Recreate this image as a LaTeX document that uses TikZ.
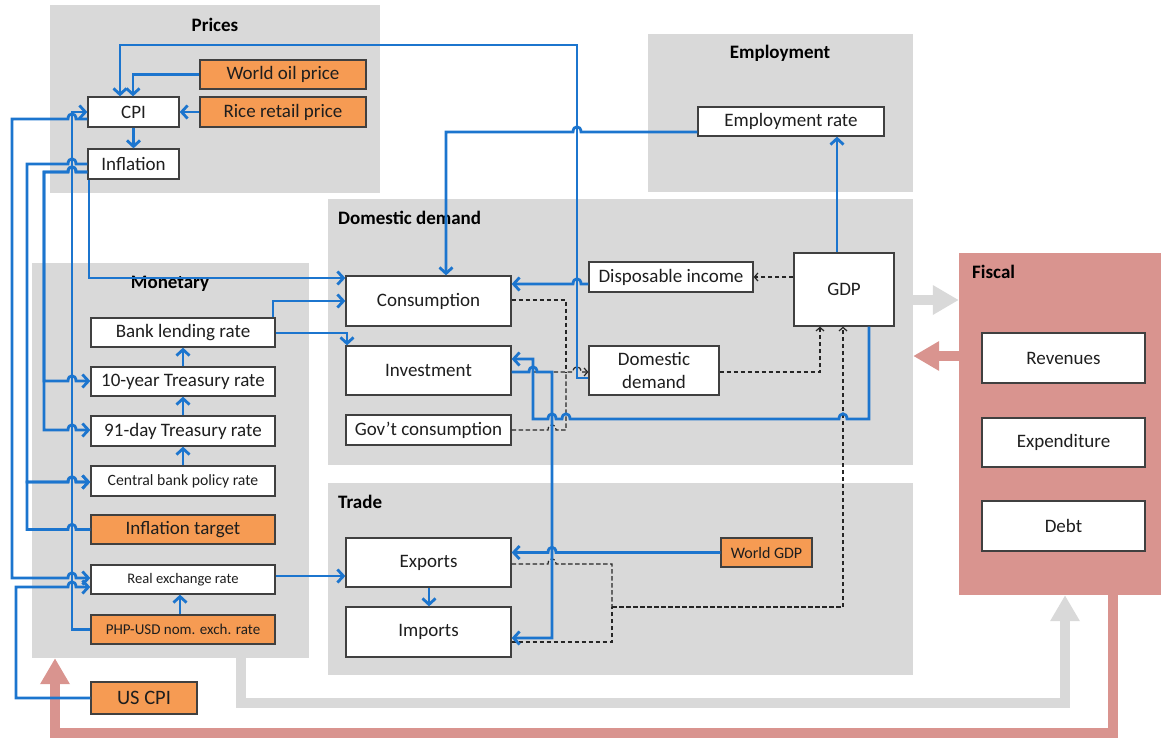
\documentclass[tikz,border=0pt]{standalone}
\usepackage{fontspec}
\setmainfont{Carlito}
\usetikzlibrary{arrows.meta}
\definecolor{grp}{RGB}{217,217,217}
\definecolor{fis}{RGB}{217,148,143}
\definecolor{org}{RGB}{246,155,83}
\definecolor{lb}{RGB}{28,117,206}
\definecolor{bd}{RGB}{64,64,64}
\definecolor{tx}{RGB}{30,30,30}
\begin{document}
\begin{tikzpicture}[x=1pt,y=-1pt,
  grpbox/.style={fill=grp, draw=none, inner sep=0pt},
  box/.style={draw=bd, line width=1.3pt, fill=white, text=tx, inner sep=0pt, font=\fontsize{19}{23}\selectfont, align=center},
  obox/.style={box, fill=org},
  ttl/.style={font=\bfseries\fontsize{19}{23}\selectfont, text=black, inner sep=0pt},
  bl/.style={draw=lb, line width=2.8pt, -{Straight Barb[length=6pt,width=13pt]}},
  ds/.style={draw=black!85, line width=1.2pt, dash pattern=on 4.5pt off 2.5pt, -{Straight Barb[length=3.5pt,width=8pt]}},
  big/.style={line width=10pt, -{Triangle[length=26pt,width=28pt]}},
  hop/.style 2 args={insert path={-- (#1-4,#2) .. controls (#1-4,#2-7) and (#1+4,#2-7) .. (#1+4,#2)}},
  hopl/.style 2 args={insert path={-- (#1+4,#2) .. controls (#1+4,#2-7) and (#1-4,#2-7) .. (#1-4,#2)}},
]
\useasboundingbox (0,0) rectangle (1161,740);

% groups
\node[grpbox, minimum width=330pt, minimum height=188pt] (gP) at (215,99) {};
\node[grpbox, minimum width=265pt, minimum height=158pt] (gE) at (780.5,113) {};
\node[grpbox, minimum width=585pt, minimum height=266pt] (gD) at (620.5,332) {};
\node[grpbox, minimum width=277pt, minimum height=395pt] (gM) at (170.5,460.5) {};
\node[grpbox, minimum width=585pt, minimum height=192pt] (gT) at (620.5,579) {};
\node[grpbox, fill=fis, minimum width=202pt, minimum height=342pt] (gF) at (1060,424) {};

\node[ttl] (tP) at (215,25) {Prices};
\node[ttl] (tE) at (780,53) {Employment};
\node[ttl, anchor=west] (tD) at (338,218) {Domestic demand};
\node[ttl] (tM) at (170,284) {Monetary};
\node[ttl, anchor=west] (tT) at (338,502) {Trade};
\node[ttl, anchor=west] (tF) at (972,272) {Fiscal};

% big arrows
\draw[big, draw=grp] (gD.east |- 0,300) -- (gF.west |- 0,300);
\draw[big, draw=fis] (gF.west |- 0,356) -- (gD.east |- 0,356);
\draw[big, draw=grp] (gM.south -| 241,0) -- (241,703) -- (1065,703) -- (gF.south -| 1065,0);
\draw[big, draw=fis] (gF.south -| 1113,0) -- (1113,733) -- (55,733) -- (gM.south -| 55,0);

% nodes
\node[obox, minimum width=166pt, minimum height=29pt] (wop) at (283,74.5) {World oil price};
\node[obox, minimum width=166pt, minimum height=30pt] (rice) at (283,112) {Rice retail price};
\node[box, minimum width=91pt, minimum height=30pt] (cpi) at (133.5,112) {CPI};
\node[box, minimum width=91pt, minimum height=30pt] (infl) at (133.5,164) {Inflation};
\node[box, minimum width=186pt, minimum height=29pt] (emp) at (791,121.5) {Employment rate};
\node[box, minimum width=164pt, minimum height=30pt] (di) at (671,277) {Disposable income};
\node[box, minimum width=100pt, minimum height=73pt] (gdp) at (844,289.5) {GDP};
\node[box, minimum width=165pt, minimum height=50pt] (cons) at (428.5,301) {Consumption};
\node[box, minimum width=165pt, minimum height=49pt] (inv) at (428.5,370.5) {Investment};
\node[box, minimum width=130pt, minimum height=49pt] (dd) at (654,370.5) {Domestic\\demand};
\node[box, minimum width=165pt, minimum height=30pt] (gov) at (428.5,430) {Gov’t consumption};
\node[box, minimum width=184pt, minimum height=29pt] (blr) at (183,332.5) {Bank lending rate};
\node[box, minimum width=184pt, minimum height=29pt] (t10) at (183,381.5) {10-year Treasury rate};
\node[box, minimum width=184pt, minimum height=30pt] (t91) at (183,431) {91-day Treasury rate};
\node[box, minimum width=184pt, minimum height=30pt, font=\fontsize{15.7}{18}\selectfont] (cbpr) at (183,481) {Central bank policy rate};
\node[obox, minimum width=184pt, minimum height=29pt] (it) at (183,529.5) {Inflation target};
\node[box, minimum width=184pt, minimum height=29pt, font=\fontsize{14.6}{18}\selectfont] (rer) at (183,579.5) {Real exchange rate};
\node[obox, minimum width=184pt, minimum height=29pt, font=\fontsize{15}{18}\selectfont] (php) at (183,629.5) {PHP-USD nom. exch. rate};
\node[obox, minimum width=106pt, minimum height=32pt, font=\fontsize{20.5}{24}\selectfont] (uscpi) at (144,698) {US CPI};
\node[box, minimum width=165pt, minimum height=49pt] (exp) at (428.5,562.5) {Exports};
\node[box, minimum width=165pt, minimum height=50pt] (imp) at (428.5,632) {Imports};
\node[obox, minimum width=91pt, minimum height=29pt, font=\fontsize{16}{19}\selectfont] (wgdp) at (766.5,552.5) {World GDP};
\node[box, minimum width=163pt, minimum height=50pt] (rev) at (1063.5,358) {Revenues};
\node[box, minimum width=163pt, minimum height=49pt] (expd) at (1063.5,442.5) {Expenditure};
\node[box, minimum width=163pt, minimum height=50pt] (debt) at (1063.5,526) {Debt};

\coordinate (jd) at (566,372);
\coordinate (jt) at (612,607);

% dashed connectors
\draw[ds] (gdp.west |- 0,277) -- (di.east);
\draw[ds, -] (cons.east |- 0,300) -- (566,300) -- (jd);
\draw[ds, -] (gov.east) [hop={552}{430}] -- (566,430) -- (jd);
\draw[ds] (inv.east |- 0,372) -- (jd) [hop={577}{372}] -- (dd.west |- 0,372);
\draw[ds] (dd.east |- 0,372) -- (820,372) -- (gdp.south -| 820,0);
\draw[ds, -] (exp.east |- 0,564) [hop={552}{564}] -- (612,564) -- (jt);
\draw[ds, -] (imp.east |- 0,642) -- (612,642) -- (jt);
\draw[ds] (jt) -- (843,607) -- (gdp.south -| 843,0);

% blue connectors: prices
\draw[bl] (dd.west |- 0,378) -- (577,378) -- (577,45) -- (120,45) -- (cpi.north -| 120,0);
\draw[bl] (wop.west) -| (cpi.north -| 133,0);
\draw[bl] (rice.west) -- (cpi.east);
\draw[bl] (cpi.south) -- (infl.north);

% employment / domestic demand
\draw[bl] (emp.west |- 0,132) [hopl={577}{132}] -- (446,132) -- (cons.north -| 446,0);
\draw[bl] (gdp.north -| 837,0) -- (emp.south -| 837,0);
\draw[bl] (di.west |- 0,284) [hopl={577}{284}] -- (cons.east |- 0,284);
\draw[bl] (gdp.south -| 869,0) -- (869,419) [hopl={843}{419}] [hopl={566}{419}] [hopl={552}{419}] -- (533,419) -- (533,359) -- (inv.east |- 0,359);
\draw[bl] (inv.east |- 0,372) [hop={533}{372}] -- (552,372) -- (552,638) -- (imp.east |- 0,638);

% trade
\draw[bl] (rer.east |- 0,576) -- (exp.west |- 0,576);
\draw[bl] (exp.south -| 429,0) -- (imp.north -| 429,0);
\draw[bl] (wgdp.west) [hopl={552}{552.5}] -- (exp.east |- 0,552.5);

% monetary
\draw[bl] (infl.south -| 89,0) -- (89,278) -- (cons.west |- 0,278);
\draw[bl] (blr.north -| 273,0) -- (273,301) -- (cons.west);
\draw[bl] (blr.east |- 0,333) -- (347,333) -- (inv.north -| 347,0);
\draw[bl] (t10.north -| 183,0) -- (blr.south -| 183,0);
\draw[bl] (t91.north -| 183,0) -- (t10.south -| 183,0);
\draw[bl] (cbpr.north -| 183,0) -- (t91.south -| 183,0);
\draw[bl] (php.north -| 180,0) -- (rer.south -| 180,0);

% left bundle
\draw[bl] (php.west) -- (72,629.5) -- (72,112) -- (cpi.west |- 0,112);
\draw[bl] (cpi.west |- 0,119) [hopl={72}{119}] -- (12,119) -- (12,578) [hop={72}{578}] -- (rer.west |- 0,578);
\draw[bl] (uscpi.west) -- (16,698) -- (16,587) [hop={72}{587}] -- (rer.west |- 0,587);
\draw[bl] (infl.west |- 0,164) [hopl={72}{164}] -- (27,164) -- (27,482) [hop={72}{482}] -- (cbpr.west |- 0,482);
\draw[bl] (it.west) [hopl={72}{529.5}] -- (27,529.5) -- (27,482) [hop={72}{482}] -- (cbpr.west |- 0,482);
\draw[bl] (infl.west |- 0,172) [hopl={72}{172}] -- (44,172) -- (44,381) [hop={72}{381}] -- (t10.west |- 0,381);
\draw[bl] (infl.west |- 0,172) [hopl={72}{172}] -- (44,172) -- (44,430) [hop={72}{430}] -- (t91.west |- 0,430);
\end{tikzpicture}
\end{document}
